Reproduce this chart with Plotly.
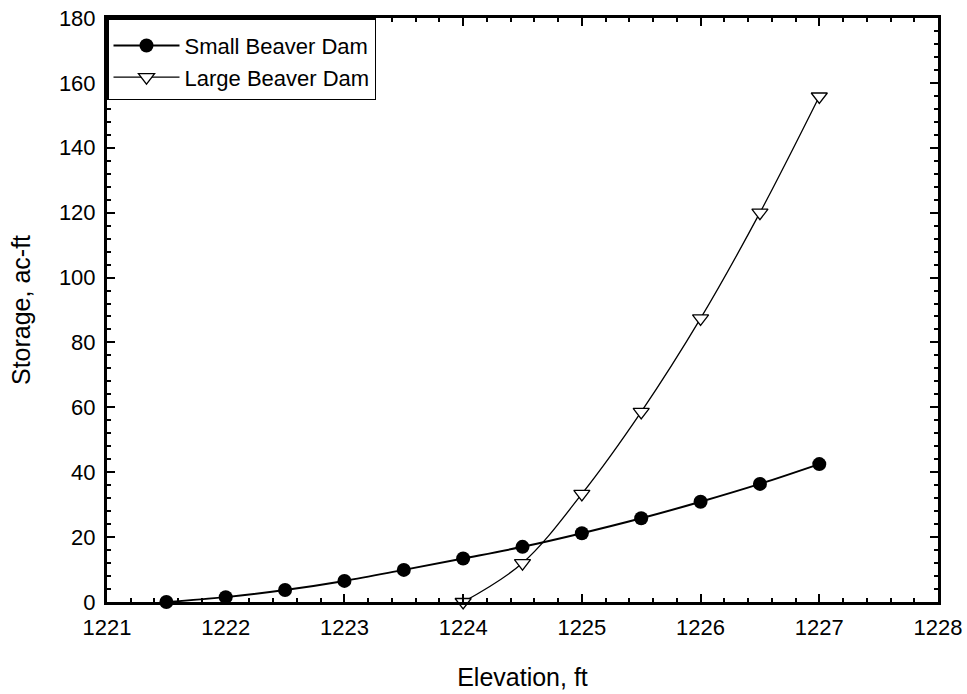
import plotly.graph_objects as go

elev_small = [1221.5, 1222, 1222.5, 1223, 1223.5, 1224, 1224.5, 1225, 1225.5, 1226, 1226.5, 1227]
storage_small = [0.0, 1.5, 3.7, 6.5, 9.9, 13.4, 17.0, 21.2, 25.8, 30.9, 36.4, 42.5]
elev_large = [1224, 1224.5, 1225, 1225.5, 1226, 1226.5, 1227]
storage_large = [0.0, 12.0, 33.3, 58.6, 87.4, 120.0, 155.8]

FONT = "Liberation Sans, Arial"

fig = go.Figure()
fig.add_trace(go.Scatter(
    x=elev_small, y=storage_small, name="Small Beaver Dam",
    mode="lines+markers", line=dict(color="black", width=2, shape="spline"),
    marker=dict(symbol="circle", size=14, color="black"), cliponaxis=False))
fig.add_trace(go.Scatter(
    x=elev_large, y=storage_large, name="Large Beaver Dam",
    mode="lines+markers", line=dict(color="black", width=1.3, shape="spline"),
    marker=dict(symbol="triangle-down", size=14, color="white",
                line=dict(color="black", width=1.3)), cliponaxis=False))

axis_common = dict(
    showline=True, linecolor="black", linewidth=3, mirror="ticks",
    ticks="inside", ticklen=8, tickwidth=1.5, tickcolor="black",
    showgrid=False, zeroline=False, automargin=False,
    tickfont=dict(family=FONT, size=22, color="black"),
)
fig.update_xaxes(range=[1221, 1228], dtick=1, ticklabelstandoff=4,
                 minor=dict(dtick=0.2, ticks="inside", ticklen=4, tickwidth=1.5, tickcolor="black"),
                 title=dict(text="Elevation, ft", font=dict(family=FONT, size=25, color="black"), standoff=30),
                 **axis_common)
fig.update_yaxes(range=[0, 180], dtick=20, ticklabelstandoff=4,
                 minor=dict(dtick=4, ticks="inside", ticklen=4, tickwidth=1.5, tickcolor="black"),
                 title=dict(text="Storage, ac-ft", font=dict(family=FONT, size=25, color="black"), standoff=22),
                 **axis_common)

fig.update_layout(
    width=967, height=694,
    margin=dict(l=107, r=29, t=18, b=92),
    plot_bgcolor="white", paper_bgcolor="white",
    legend=dict(x=0, y=1, xanchor="left", yanchor="top",
                bgcolor="white", bordercolor="black", borderwidth=1.5,
                font=dict(family=FONT, size=22, color="black"),
                title=dict(text=" ", font=dict(size=4)),
                itemwidth=66, entrywidth=280, tracegroupgap=0),
)
fig.write_html("out.html")
